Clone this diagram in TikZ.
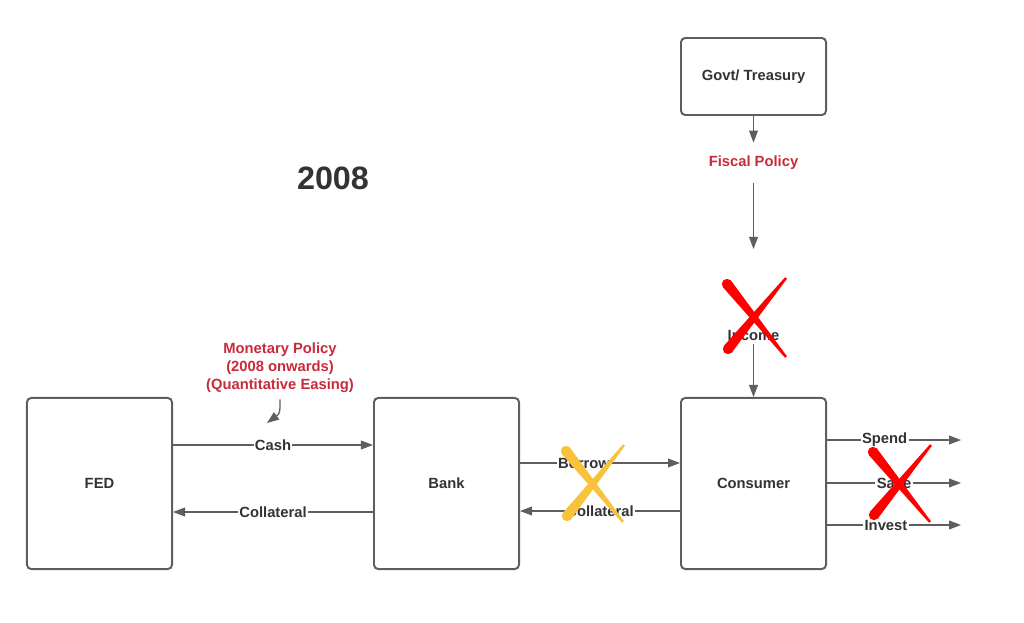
\documentclass[tikz,border=0pt]{standalone}
\usepackage{fontspec}
\setmainfont{Liberation Sans}
\usetikzlibrary{arrows.meta,calc}
\definecolor{boxgray}{HTML}{5E5E5E}
\definecolor{textgray}{HTML}{333333}
\definecolor{policyred}{HTML}{C92A39}
\definecolor{crossred}{HTML}{FF0000}
\definecolor{crossyellow}{HTML}{F9C23C}
\newcommand\brush[3]{\fill[#1] #2 circle (0.13cm);
  \fill[#1] ($#2!0.13cm!90:#3$) -- ($#3!0.03cm!-90:#2$) -- ($#3!0.03cm!90:#2$) -- ($#2!0.13cm!-90:#3$) -- cycle;}

\begin{document}
\begin{tikzpicture}[x=0.025cm,y=-0.025cm]

\tikzset{every node/.style={font=\bfseries\fontsize{10.5}{12.8}\selectfont,text=textgray}}
\tikzset{block/.style={draw=boxgray,line width=1.4pt,rounded corners=3pt,minimum width=3.625cm,minimum height=4.275cm}}
\tikzset{flow/.style={draw=boxgray,line width=0.9pt,-{Triangle[length=0.3cm,width=0.22cm]}}}
\tikzset{tag/.style={fill=white,inner sep=1pt}}
\tikzset{policy/.style={text=policyred,align=center}}

\useasboundingbox (0,0) rectangle (1024,623);

\node[block] (fed)      at (99.5,483.5)  {FED};
\node[block] (bank)     at (446.5,483.5) {Bank};
\node[block] (consumer) at (753.5,483.5) {Consumer};
\node[block,minimum height=1.925cm] (govt) at (753.5,76.5) {Govt/ Treasury};

\node[font=\bfseries\fontsize{23}{28}\selectfont] (year) at (333,178) {2008};
\node[policy,inner ysep=0.33cm] (fiscal) at (753.5,163) {Fiscal Policy};
\node[inner ysep=0.1cm] (income) at (753.5,335) {Income};
\node[policy] (monetary) at (280,368) {Monetary Policy\\(2008 onwards)\\(Quantitative Easing)};

\coordinate (fiscalend) at (753.5,249);
\coordinate (qe) at (267,423);
\coordinate (spend)  at (961,440);
\coordinate (save)   at (961,483);
\coordinate (invest) at (961,525);

\draw[flow] (govt) -- (fiscal);
\draw[flow] (fiscal) -- (fiscalend);
\draw[flow] (income) -- (consumer);
\draw[flow] ([yshift=-1pt]monetary.south) .. controls +(0,-0.35cm) .. (qe);

\draw[flow] (fed.east |- 0,445) -- node[tag] {Cash} (bank.west |- 0,445);
\draw[flow] (bank.west |- 0,512) -- node[tag] {Collateral} (fed.east |- 0,512);
\draw[flow] (bank.east |- 0,463) -- node[tag,pos=0.4] {Borrow} (consumer.west |- 0,463);
\draw[flow] (consumer.west |- 0,511) -- node[tag] {Collateral} (bank.east |- 0,511);
\draw[flow] (consumer.east |- spend) -- node[tag,pos=0.43] {Spend} (spend);
\draw[flow] (consumer.east |- save) -- node[tag] {Save} (save);
\draw[flow] (consumer.east |- invest) -- node[tag,pos=0.44] {Invest} (invest);

% crosses
\brush{crossyellow}{(566,451)}{(623,522)}
\brush{crossyellow}{(567,516)}{(624,445)}
\brush{crossred}{(727,284)}{(786,357)}
\brush{crossred}{(728,349)}{(786,278)}
\brush{crossred}{(873,452)}{(930,522)}
\brush{crossred}{(874,515)}{(931,445)}

\end{tikzpicture}
\end{document}
